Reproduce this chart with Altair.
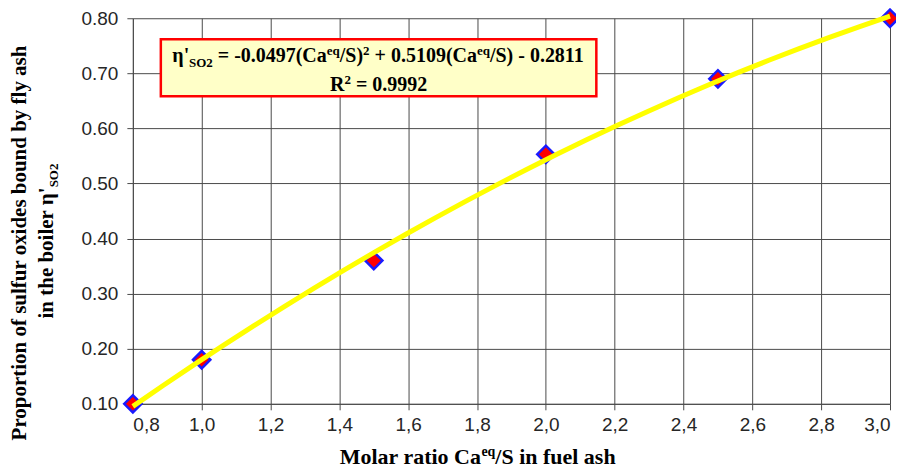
import altair as alt
import pandas as pd

# ---- data ----
ratio = [0.8, 1.0, 1.5, 2.0, 2.5, 3.0]
eta = [0.10, 0.18, 0.36, 0.553, 0.69, 0.80]
x_ticks = [0.8, 1.0, 1.2, 1.4, 1.6, 1.8, 2.0, 2.2, 2.4, 2.6, 2.8, 3.0]
y_ticks = [0.10, 0.20, 0.30, 0.40, 0.50, 0.60, 0.70, 0.80]

df = pd.DataFrame({"ratio": ratio, "eta": eta})

W, H = 758, 386
SERIF = "Liberation Serif"
SANS = "Liberation Sans"

# Times/Liberation Serif Bold advance widths (per 1000 em)
WID = {' ': 250, "'": 278, '(': 333, ')': 333, '+': 570, ',': 250, '-': 333, '.': 250,
       '/': 278, '=': 570, 'C': 722, 'M': 944, 'O': 778, 'P': 611, 'R': 722, 'S': 556,
       'a': 500, 'b': 556, 'd': 556, 'e': 444, 'f': 333, 'h': 556, 'i': 278, 'l': 278,
       'n': 556, 'o': 500, 'p': 556, 'q': 556, 'r': 444, 's': 389, 't': 333, 'u': 556,
       'x': 500, 'y': 500, 'η': 556}


def tw(s, size):
    return sum(WID.get(c, 500) for c in s) * size / 1000.0


def one():
    return alt.Data(values=[{"k": 0}])


def seg(text, x, y, size, angle=0, align="left", baseline="alphabetic"):
    return alt.Chart(one()).mark_text(
        text=text, font=SERIF, fontWeight="bold", fontSize=size,
        color="black", align=align, baseline=baseline, angle=angle
    ).encode(x=alt.value(x), y=alt.value(y))


def hline(parts, cx, y, big, small):
    """parts: list of (text, kind) with kind in main/sup/sub; centred at cx"""
    sizes = [big if k == "main" else small for _, k in parts]
    total = sum(tw(t, s) for (t, _), s in zip(parts, sizes))
    x = cx - total / 2
    out = []
    for (t, k), s in zip(parts, sizes):
        dy = 0 if k == "main" else (-big * 0.36 if k == "sup" else big * 0.22)
        lead = len(t) - len(t.lstrip(" "))
        out.append(seg(t.strip(" "), x + tw(" " * lead, s), y + dy, s))
        x += tw(t, s)
    return out


def vline(parts, x, cy, big, small):
    sizes = [big if k == "main" else small for _, k in parts]
    total = sum(tw(t, s) for (t, _), s in zip(parts, sizes))
    y = cy + total / 2
    out = []
    for (t, k), s in zip(parts, sizes):
        dx = 0 if k == "main" else (-big * 0.36 if k == "sup" else big * 0.22)
        lead = len(t) - len(t.lstrip(" "))
        out.append(seg(t.strip(" "), x + dx, y - tw(" " * lead, s), s, angle=270))
        y -= tw(t, s)
    return out


base = alt.Chart(df)

x_enc = alt.X("ratio:Q",
              scale=alt.Scale(domain=[0.8, 3.0], nice=False, zero=False),
              axis=alt.Axis(values=x_ticks, title=None,
                            labelExpr="replace(format(datum.value, '.1f'), '.', ',')"))
y_enc = alt.Y("eta:Q",
              scale=alt.Scale(domain=[0.1, 0.8], nice=False, zero=False),
              axis=alt.Axis(values=y_ticks, format=".2f", title=None))

points = base.mark_point(shape="diamond", size=300, filled=True, fill="#ff0000",
                         stroke="#1a1aff", strokeWidth=2.5, opacity=1).encode(x=x_enc, y=y_enc)

trend = base.transform_regression("ratio", "eta", method="poly", order=2,
                                  extent=[0.8, 3.0]).mark_line(
    color="#ffff00", strokeWidth=5).encode(x=x_enc, y=y_enc)

box = alt.Chart(one()).mark_rect(fill="#ffffc8", stroke="#ff0000", strokeWidth=2.5).encode(
    x=alt.value(28), x2=alt.value(464), y=alt.value(21), y2=alt.value(78))

eq1 = hline([("η'", "main"), ("SO2", "sub"), (" = -0.0497(Ca", "main"), ("eq", "sup"),
             ("/S)", "main"), ("2", "sup"), (" + 0.5109(Ca", "main"), ("eq", "sup"),
             ("/S) - 0.2811", "main")], 246, 44, 20, 13)
eq2 = hline([("R", "main"), ("2", "sup"), (" = 0.9992", "main")], 246, 73, 20, 13)

xt = hline([("Molar ratio Ca", "main"), ("eq", "sup"), ("/S in  fuel ash", "main")],
           348, 446, 22, 14)

yt1 = [seg("Proportion of sulfur oxides bound by fly ash", -107, 225, 21,
           angle=270, align="center")]
yt2 = vline([("in the boiler η'", "main"), ("SO2", "sub")], -80, 223, 21, 13)

layers = [box] + eq1 + eq2 + xt + yt1 + yt2

chart = alt.layer(points, trend, *layers).properties(
    width=W, height=H,
    autosize=alt.AutoSizeParams(type="none"),
    padding={"left": 125, "top": 10, "right": 6, "bottom": 66},
).configure_axis(
    grid=True, gridColor="#4a4a4a", gridWidth=1, gridOpacity=1,
    domainColor="#4a4a4a", tickColor="#4a4a4a", tickSize=6,
    labelFont=SANS, labelFontSize=19, labelColor="#262626",
).configure_axisX(labelPadding=6).configure_axisY(labelPadding=9).configure_view(
    stroke=None
)

chart.save("out.html", embed_options={"renderer": "svg", "actions": False})
